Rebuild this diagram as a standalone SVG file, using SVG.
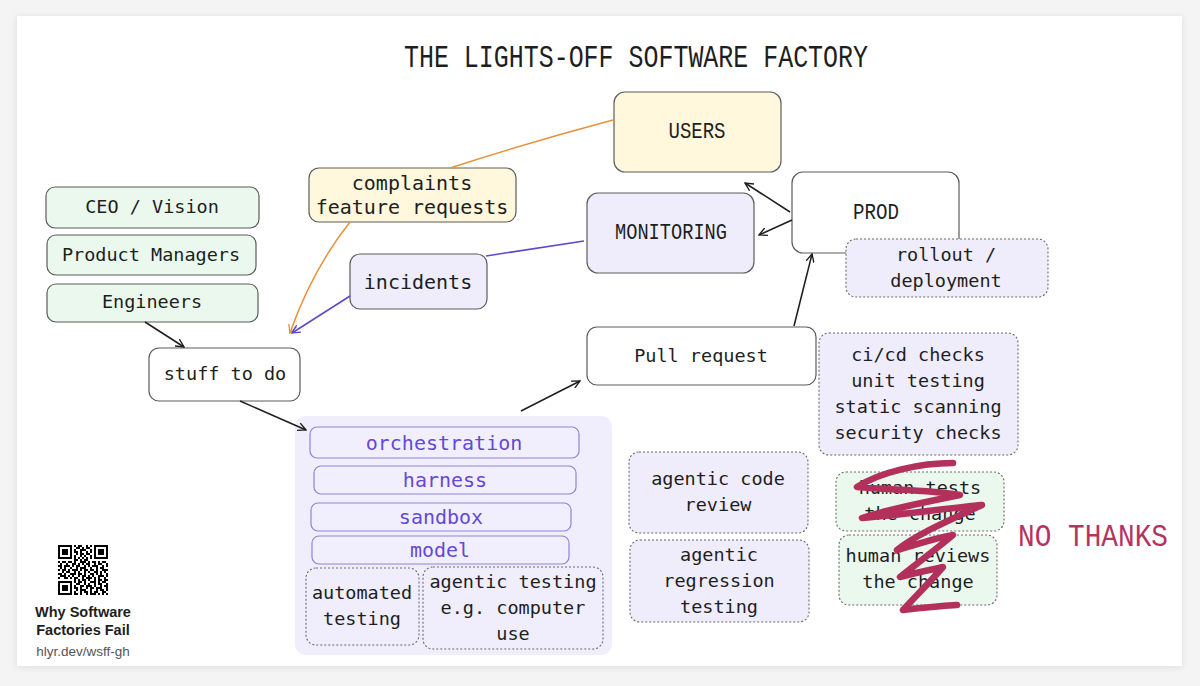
<svg xmlns="http://www.w3.org/2000/svg" width="1200" height="686" viewBox="0 0 1200 686">
<style>
.t{font-family:"DejaVu Sans Mono","Liberation Mono",monospace;font-size:18.5px;fill:#1e1e1e;text-anchor:middle}
.tb{font-family:"DejaVu Sans Mono","Liberation Mono",monospace;font-size:20px;fill:#1e1e1e;text-anchor:middle}
.tp{font-family:"DejaVu Sans Mono","Liberation Mono",monospace;font-size:20px;fill:#6549d5;text-anchor:middle}
.tc{font-family:"Liberation Mono","DejaVu Sans Mono",monospace;fill:#1e1e1e;text-anchor:middle}
.box{stroke:#5c5c5c;stroke-width:1.2}
.dot{stroke:#6a6a6a;stroke-width:1.1;stroke-dasharray:2 2}
.pbox{fill:#f1effd;stroke:#8f83d8;stroke-width:1.2}
.w{fill:#ffffff}.g{fill:#ebf8ed}.y{fill:#fff8dc}.l{fill:#efedfc}
.ar{fill:none;stroke:#1e1e1e;stroke-width:1.5}
.qr{fill:none;stroke:#000;stroke-width:2}
</style>
<defs>
<filter id="sh" x="-5%" y="-5%" width="110%" height="110%"><feDropShadow dx="0" dy="1" stdDeviation="3" flood-color="#000" flood-opacity="0.10"/></filter>
<marker id="mk" viewBox="0 0 10 10" refX="9" refY="5" markerWidth="9" markerHeight="9" orient="auto" markerUnits="userSpaceOnUse"><path d="M0,0.5 L9,5 L0,9.5" fill="none" stroke="#1e1e1e" stroke-width="1.5"/></marker>
<marker id="mo" viewBox="0 0 10 10" refX="9" refY="5" markerWidth="9" markerHeight="9" orient="auto" markerUnits="userSpaceOnUse"><path d="M0,0.5 L9,5 L0,9.5" fill="none" stroke="#e8913a" stroke-width="1.5"/></marker>
<marker id="mp" viewBox="0 0 10 10" refX="9" refY="5" markerWidth="9" markerHeight="9" orient="auto" markerUnits="userSpaceOnUse"><path d="M0,0.5 L9,5 L0,9.5" fill="none" stroke="#5a48d0" stroke-width="1.5"/></marker>
</defs>
<rect x="0" y="0" width="1200" height="686" fill="#f4f4f4"/>
<rect x="17" y="16" width="1165" height="650" fill="#ffffff" filter="url(#sh)"/>

<text x="636" y="67" class="tc" font-size="31" textLength="464" lengthAdjust="spacingAndGlyphs">THE LIGHTS-OFF SOFTWARE FACTORY</text>

<g id="users"><rect x="614" y="92" width="167" height="80" rx="11" class="box y"/><text x="697" y="138" class="tc" font-size="22" textLength="57" lengthAdjust="spacingAndGlyphs">USERS</text></g>
<g id="monitoring"><rect x="587" y="193" width="167" height="80" rx="11" class="box l"/><text x="671" y="239" class="tc" font-size="22" textLength="112" lengthAdjust="spacingAndGlyphs">MONITORING</text></g>
<g id="prod"><rect x="792" y="172" width="167" height="81" rx="11" class="box w"/><text x="876" y="219" class="tc" font-size="22" textLength="46" lengthAdjust="spacingAndGlyphs">PROD</text></g>
<g id="rollout"><rect x="846" y="239" width="202" height="58" rx="10" class="dot l"/><text x="946" y="261" class="t">rollout /</text><text x="946" y="287" class="t">deployment</text></g>

<g id="complaints"><rect x="309" y="168" width="207" height="54" rx="10" class="box y" stroke="#b8b29a"/><text x="412" y="190" class="tb">complaints</text><text x="412" y="214" class="tb">feature requests</text></g>
<g id="incidents"><rect x="350" y="254" width="137" height="55" rx="10" class="box l" stroke="#9c9cb0"/><text x="418" y="289" class="tb">incidents</text></g>

<g id="ceo"><rect x="46" y="187" width="213" height="41" rx="9" class="box g"/><text x="152" y="213" class="t">CEO / Vision</text></g>
<g id="pm"><rect x="47" y="235" width="209" height="40" rx="9" class="box g"/><text x="151" y="261" class="t">Product Managers</text></g>
<g id="engineers"><rect x="47" y="284" width="211" height="38" rx="9" class="box g"/><text x="152" y="308" class="t">Engineers</text></g>
<g id="stuff"><rect x="149" y="348" width="151" height="53" rx="10" class="box w"/><text x="225" y="380" class="t">stuff to do</text></g>

<g id="agent-stack">
<rect x="295" y="416" width="317" height="239" rx="11" fill="#f0eefd"/>
<g id="orchestration"><rect x="310" y="427" width="269" height="31" rx="7" class="pbox"/><text x="444" y="450" class="tp">orchestration</text></g>
<g id="harness"><rect x="314" y="466" width="262" height="28" rx="7" class="pbox"/><text x="445" y="487" class="tp">harness</text></g>
<g id="sandbox"><rect x="311" y="503" width="260" height="28" rx="7" class="pbox"/><text x="441" y="524" class="tp">sandbox</text></g>
<g id="model"><rect x="312" y="536" width="257" height="28" rx="7" class="pbox"/><text x="440" y="557" class="tp">model</text></g>
<g id="automated"><rect x="306" y="568" width="113" height="77" rx="10" class="dot" fill="#f0eefd"/><text x="362" y="599" class="t">automated</text><text x="362" y="625" class="t">testing</text></g>
<g id="agentic-testing"><rect x="423" y="567" width="180" height="82" rx="10" class="dot" fill="#f0eefd"/><text x="513" y="588" class="t">agentic testing</text><text x="513" y="614" class="t">e.g. computer</text><text x="513" y="640" class="t">use</text></g>
</g>

<g id="pull-request"><rect x="587" y="327" width="229" height="58" rx="10" class="box w"/><text x="701" y="362" class="t">Pull request</text></g>
<g id="cicd"><rect x="819" y="333" width="199" height="122" rx="10" class="dot l"/><text x="918" y="361" class="t">ci/cd checks</text><text x="918" y="387" class="t">unit testing</text><text x="918" y="413" class="t">static scanning</text><text x="918" y="439" class="t">security checks</text></g>
<g id="code-review"><rect x="629" y="452" width="179" height="81" rx="10" class="dot l"/><text x="718" y="485" class="t">agentic code</text><text x="718" y="511" class="t">review</text></g>
<g id="regression"><rect x="630" y="540" width="179" height="82" rx="10" class="dot l"/><text x="719" y="561" class="t">agentic</text><text x="719" y="587" class="t">regression</text><text x="719" y="613" class="t">testing</text></g>
<g id="human-tests"><rect x="836" y="472" width="168" height="59" rx="10" class="dot g"/><text x="920" y="494" class="t">human tests</text><text x="920" y="520" class="t">the change</text></g>
<g id="human-reviews"><rect x="839" y="535" width="158" height="70" rx="10" class="dot g"/><text x="918" y="562" class="t">human reviews</text><text x="918" y="588" class="t">the change</text></g>

<g id="connectors">
<path d="M613,120 Q530,142 450,168" fill="none" stroke="#e8913a" stroke-width="1.5"/>
<path d="M350,222 Q312,270 290,333" fill="none" stroke="#e8913a" stroke-width="1.5" marker-end="url(#mo)"/>
<path d="M584,241 L486,256" fill="none" stroke="#5a48d0" stroke-width="1.5"/>
<path d="M350,296 L292,333" fill="none" stroke="#5a48d0" stroke-width="1.5" marker-end="url(#mp)"/>
<path d="M145,322 L184,347" class="ar" marker-end="url(#mk)"/>
<path d="M240,401 L306,430" class="ar" marker-end="url(#mk)"/>
<path d="M521,411 L580,381" class="ar" marker-end="url(#mk)"/>
<path d="M794,326 L812,254" class="ar" marker-end="url(#mk)"/>
<path d="M790,212 L745,183" class="ar" marker-end="url(#mk)"/>
<path d="M792,220 L759,235" class="ar" marker-end="url(#mk)"/>
</g>

<path id="scribble" d="M953,463 C920,463 880,472 857,487 C890,490 930,490 960,495 C925,502 885,510 862,518 C900,515 950,508 982,505 C950,520 915,535 897,550 C915,545 935,538 953,535 C935,550 915,565 900,577 C915,573 930,570 943,567 C930,582 915,597 903,610 C920,608 940,606 957,605" fill="none" stroke="#b3305d" stroke-width="6.5" stroke-linecap="round" stroke-linejoin="round"/>
<text x="1093" y="546" class="tc" font-size="32" style="fill:#b3355f" textLength="150" lengthAdjust="spacingAndGlyphs">NO THANKS</text>

<g id="qr">
<path class="qr" d="M58,546h50" stroke-dasharray="14 2 2 2 4 4 2 2 2 2 14"/>
<path class="qr" d="M58,548h50" stroke-dasharray="2 10 2 4 4 2 2 2 4 4 2 10 2"/>
<path class="qr" d="M58,550h50" stroke-dasharray="2 2 6 2 2 2 2 4 6 4 2 2 2 2 6 2 2"/>
<path class="qr" d="M58,552h50" stroke-dasharray="2 2 6 2 2 2 4 2 2 4 2 2 2 2 2 2 6 2 2"/>
<path class="qr" d="M58,554h50" stroke-dasharray="2 2 6 2 2 4 2 2 4 2 4 4 2 2 6 2 2"/>
<path class="qr" d="M58,556h50" stroke-dasharray="2 10 2 2 2 4 2 2 2 4 2 2 2 10 2"/>
<path class="qr" d="M58,558h50" stroke-dasharray="14 2 2 2 2 2 2 2 2 2 2 2 14"/>
<path class="qr" d="M58,560h50" stroke-dasharray="0 16 4 2 2 2 4 20"/>
<path class="qr" d="M58,562h50" stroke-dasharray="2 2 4 2 4 2 2 4 6 2 2 2 4 2 2 2 4 2"/>
<path class="qr" d="M58,564h50" stroke-dasharray="0 2 2 4 2 4 4 2 2 2 2 2 4 4 2 2 4 4 2"/>
<path class="qr" d="M58,566h50" stroke-dasharray="4 2 6 2 2 2 4 4 2 2 2 2 6 4 2 2 2"/>
<path class="qr" d="M58,568h50" stroke-dasharray="0 2 2 2 2 4 2 4 2 2 6 4 2 4 2 2 4 4"/>
<path class="qr" d="M58,570h50" stroke-dasharray="2 2 4 2 2 2 6 2 2 2 4 2 4 2 2 4 6"/>
<path class="qr" d="M58,572h50" stroke-dasharray="0 4 2 2 4 4 2 2 2 4 2 2 2 4 4 2 2 2 2 2"/>
<path class="qr" d="M58,574h50" stroke-dasharray="4 2 2 4 6 2 4 2 2 4 4 2 2 2 2 4 2"/>
<path class="qr" d="M58,576h50" stroke-dasharray="0 2 6 2 2 2 2 4 2 2 4 2 2 2 2 4 6 2 2"/>
<path class="qr" d="M58,578h50" stroke-dasharray="2 4 4 2 2 2 4 4 2 2 6 2 2 2 2 4 2 2"/>
<path class="qr" d="M58,580h50" stroke-dasharray="0 16 2 2 2 2 4 2 2 4 2 2 4 2 4"/>
<path class="qr" d="M58,582h50" stroke-dasharray="14 2 2 2 4 2 2 4 6 2 2 2 4 2"/>
<path class="qr" d="M58,584h50" stroke-dasharray="2 10 2 4 4 4 2 2 2 4 2 2 4 4 2"/>
<path class="qr" d="M58,586h50" stroke-dasharray="2 2 6 2 2 2 2 4 4 2 6 2 2 4 2 2 4"/>
<path class="qr" d="M58,588h50" stroke-dasharray="2 2 6 2 2 2 4 2 2 4 2 2 4 2 6 4 2"/>
<path class="qr" d="M58,590h50" stroke-dasharray="2 2 6 2 2 4 2 2 6 4 2 4 2 2 4 2 2"/>
<path class="qr" d="M58,592h50" stroke-dasharray="2 10 2 2 2 4 2 2 4 2 2 2 4 4 4 2"/>
<path class="qr" d="M58,594h50" stroke-dasharray="14 2 4 2 2 4 2 2 6 2 2 2 2 2 2"/>
</g>
<g id="qr-caption" font-family="'Liberation Sans',Arial,sans-serif" text-anchor="middle">
<text x="83" y="617" font-size="14.5" font-weight="bold" fill="#1e1e1e">Why Software</text>
<text x="83" y="635" font-size="14.5" font-weight="bold" fill="#1e1e1e">Factories Fail</text>
<text x="83" y="656" font-size="13.5" fill="#555555">hlyr.dev/wsff-gh</text>
</g>
</svg>
